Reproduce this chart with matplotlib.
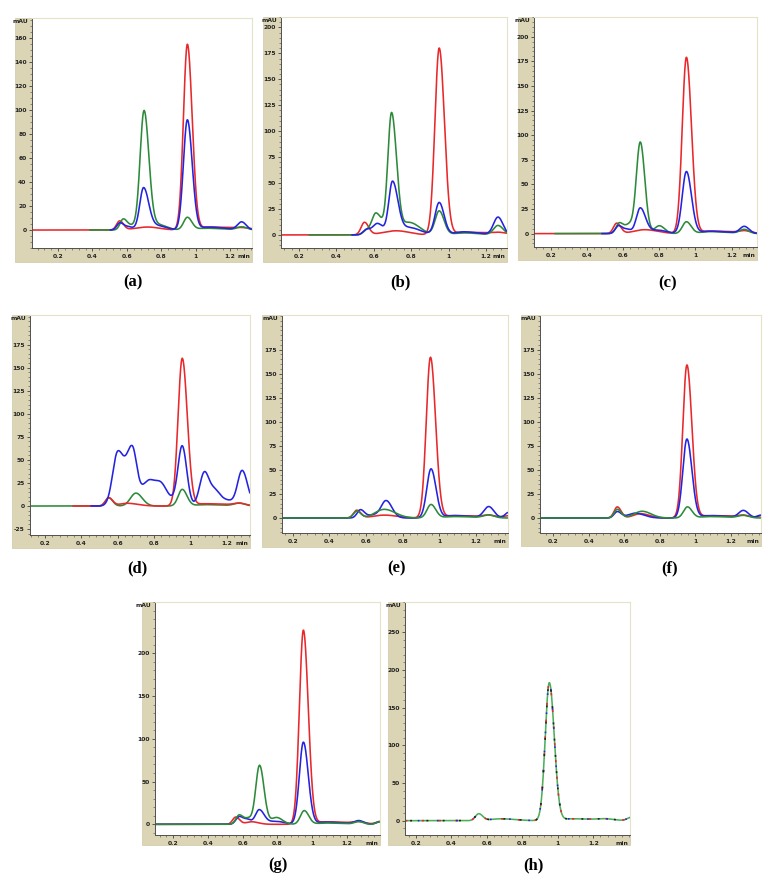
import numpy as np
import matplotlib
matplotlib.use("Agg")
import matplotlib.pyplot as plt
from matplotlib.patches import Rectangle
from matplotlib.ticker import MultipleLocator, FixedLocator, FixedFormatter

# ---------------- data: peaks ---------------------------------------
# each peak: (retention time [min], height [mAU], left width, right width)
A_RED = [(0.558, 7.5, 0.018, 0.022), (0.72, 2.5, 0.07, 0.07), (0.952, 155, 0.023, 0.028),
         (1.08, 2.5, 0.05, 0.15), (1.27, 1.0, 0.05, 0.05)]
A_BLUE = [(0.56, 6.0, 0.018, 0.022), (0.61, 2.5, 0.02, 0.03), (0.697, 35, 0.022, 0.03),
          (0.78, 3.5, 0.04, 0.05), (0.952, 92, 0.023, 0.028), (1.07, 2.5, 0.04, 0.1),
          (1.268, 6.5, 0.024, 0.026)]
A_GREEN = [(0.578, 8.5, 0.018, 0.022), (0.63, 3.5, 0.03, 0.03), (0.70, 99, 0.023, 0.028),
           (0.78, 4.5, 0.04, 0.05), (0.952, 10.5, 0.022, 0.026), (1.06, 1.5, 0.05, 0.1),
           (1.27, 2.5, 0.03, 0.03)]

B_RED = [(0.55, 12, 0.018, 0.022), (0.72, 4, 0.07, 0.07), (0.95, 180, 0.023, 0.028),
         (1.08, 2.5, 0.05, 0.15), (1.27, 1.5, 0.04, 0.04)]
B_BLUE = [(0.56, 5, 0.018, 0.022), (0.62, 11, 0.025, 0.03), (0.70, 51, 0.02, 0.029),
          (0.79, 7, 0.04, 0.06), (0.95, 31, 0.022, 0.026), (1.08, 3, 0.05, 0.08),
          (1.265, 17, 0.024, 0.026)]
B_GREEN = [(0.56, 4, 0.018, 0.022), (0.612, 21, 0.022, 0.032), (0.695, 117, 0.02, 0.027),
           (0.79, 12, 0.035, 0.055), (0.95, 23, 0.022, 0.026), (1.08, 2, 0.05, 0.08),
           (1.265, 9, 0.024, 0.028)]

C_RED = [(0.565, 10.5, 0.018, 0.022), (0.72, 4, 0.06, 0.07), (0.95, 179, 0.023, 0.028),
         (1.08, 2.5, 0.05, 0.15), (1.27, 2, 0.03, 0.03)]
C_BLUE = [(0.575, 8, 0.018, 0.022), (0.625, 4, 0.02, 0.02), (0.695, 26, 0.022, 0.029),
          (0.79, 3.5, 0.04, 0.05), (0.95, 63, 0.023, 0.028), (1.08, 2.5, 0.05, 0.1),
          (1.27, 7, 0.024, 0.026)]
C_GREEN = [(0.58, 11, 0.018, 0.025), (0.635, 8, 0.02, 0.02), (0.695, 93, 0.022, 0.025),
           (0.80, 8, 0.025, 0.03), (0.95, 12, 0.022, 0.026), (1.08, 2, 0.05, 0.1),
           (1.27, 4, 0.025, 0.025)]

D_RED = [(0.55, 9, 0.018, 0.022), (0.65, 3, 0.04, 0.06), (0.955, 160, 0.023, 0.028),
         (1.08, 2.5, 0.05, 0.15), (1.27, 2, 0.03, 0.03)]
D_BLUE = [(0.60, 58, 0.028, 0.035), (0.68, 59, 0.03, 0.025), (0.77, 27, 0.04, 0.04),
          (0.84, 18, 0.03, 0.03), (0.90, 6, 0.04, 0.04), (0.955, 63, 0.023, 0.025),
          (1.075, 34, 0.025, 0.025), (1.13, 16, 0.03, 0.03), (1.2, 6, 0.04, 0.04),
          (1.285, 38, 0.025, 0.03)]
D_GREEN = [(0.55, 9, 0.018, 0.022), (0.70, 14, 0.03, 0.035), (0.955, 18, 0.022, 0.026),
           (1.08, 1.5, 0.05, 0.1), (1.27, 3, 0.03, 0.03)]

E_RED = [(0.55, 8, 0.018, 0.022), (0.70, 3, 0.06, 0.07), (0.952, 167, 0.023, 0.028),
         (1.08, 2.5, 0.05, 0.15), (1.27, 2, 0.03, 0.03), (1.38, 2, 0.03, 0.03)]
E_BLUE = [(0.57, 8.5, 0.018, 0.022), (0.64, 3, 0.03, 0.03), (0.71, 18, 0.027, 0.032),
          (0.955, 51, 0.023, 0.027), (1.08, 2.5, 0.05, 0.1), (1.27, 11.5, 0.026, 0.028),
          (1.38, 6, 0.02, 0.02)]
E_GREEN = [(0.55, 7, 0.018, 0.022), (0.70, 9, 0.05, 0.06), (0.955, 14, 0.022, 0.026),
           (1.08, 1.5, 0.05, 0.1), (1.27, 3, 0.03, 0.03)]

F_RED = [(0.56, 11.5, 0.018, 0.022), (0.69, 4.5, 0.04, 0.05), (0.952, 159, 0.023, 0.028),
         (1.08, 2.5, 0.05, 0.15), (1.27, 2, 0.03, 0.03), (1.37, 2, 0.02, 0.02)]
F_BLUE = [(0.56, 6.5, 0.018, 0.022), (0.66, 5, 0.04, 0.05), (0.952, 82, 0.023, 0.028),
          (1.08, 2.5, 0.05, 0.1), (1.27, 7.5, 0.026, 0.028), (1.37, 3, 0.02, 0.02)]
F_GREEN = [(0.56, 9, 0.018, 0.022), (0.70, 7, 0.045, 0.05), (0.955, 11.5, 0.022, 0.026),
           (1.08, 1.5, 0.05, 0.1), (1.27, 2.5, 0.03, 0.03)]

G_RED = [(0.56, 8.5, 0.018, 0.022), (0.65, 3, 0.03, 0.04), (0.95, 227, 0.023, 0.028),
         (1.08, 3, 0.05, 0.15), (1.27, 2, 0.03, 0.03), (1.39, 3, 0.02, 0.02)]
G_BLUE = [(0.58, 9, 0.019, 0.024), (0.63, 5, 0.02, 0.02), (0.695, 17, 0.022, 0.029),
          (0.79, 3.5, 0.04, 0.05), (0.95, 96, 0.023, 0.028), (1.08, 2.5, 0.05, 0.1),
          (1.27, 4, 0.026, 0.028), (1.39, 3, 0.02, 0.02)]
G_GREEN = [(0.58, 11, 0.019, 0.025), (0.635, 6, 0.02, 0.02), (0.697, 69, 0.022, 0.026),
           (0.795, 8, 0.03, 0.035), (0.955, 16, 0.022, 0.026), (1.08, 1.5, 0.05, 0.1),
           (1.27, 3, 0.025, 0.025), (1.39, 3, 0.02, 0.02)]

H_ALL = [(0.555, 9, 0.019, 0.022), (0.68, 2.5, 0.06, 0.08), (0.952, 183, 0.023, 0.028),
         (1.08, 2.5, 0.05, 0.15), (1.27, 1.5, 0.04, 0.04), (1.41, 4, 0.02, 0.02)]

X_TICKS = [0.2, 0.4, 0.6, 0.8, 1.0, 1.2]
X_TICK_LABELS = ["0.2", "0.4", "0.6", "0.8", "1", "1.2"]
Y_TICKS = [
    [0, 20, 40, 60, 80, 100, 120, 140, 160],
    [0, 25, 50, 75, 100, 125, 150, 175, 200],
    [0, 25, 50, 75, 100, 125, 150, 175, 200],
    [-25, 0, 25, 50, 75, 100, 125, 150, 175],
    [0, 25, 50, 75, 100, 125, 150, 175],
    [0, 25, 50, 75, 100, 125, 150, 175],
    [0, 50, 100, 150, 200],
    [0, 50, 100, 150, 200, 250],
]
PANEL_LABELS = ["(a)", "(b)", "(c)", "(d)", "(e)", "(f)", "(g)", "(h)"]

# ---------------- styling / layout -----------------
RED, BLUE, GREEN, BLACK = "#e8282a", "#2323e0", "#2d8a3a", "#202020"
LIGHTGREEN = "#4fae5c"
TAN = "#dbd5b5"
W, H = 774, 881

fig = plt.figure(figsize=(W / 100, H / 100), dpi=100)


def trace(peaks, x):
    y = np.zeros_like(x)
    for c, h, wl, wr in peaks:
        w = np.where(x < c, wl, wr)
        y += h * np.exp(-0.5 * ((x - c) / w) ** 2)
    return y


# (L, R, T, B, tanLeft, tanBottom) in pixels; xlim; ylim; y minor step
layout = [
    ((32, 252, 18, 248, 15, 262), (0.048, 1.328), (-15, 177), 5),
    ((281, 507, 17, 248, 263, 262), (0.103, 1.313), (-12.6, 210), 5),
    ((534, 757, 17, 247, 518, 260), (0.108, 1.34), (-13.6, 220), 5),
    ((30, 250, 315, 535, 12, 548), (0.117, 1.328), (-31.4, 207), 5),
    ((282, 508, 315, 533, 262, 547), (0.142, 1.375), (-15.6, 211), 5),
    ((540, 761, 315, 533, 521, 546), (0.125, 1.369), (-15.6, 211), 5),
    ((155, 380, 602, 835, 142, 845), (0.094, 1.392), (-12.5, 260), 10),
    ((405, 630, 602, 835, 388, 845), (0.14, 1.406), (-19, 290), 10),
]

traces = [
    [(A_RED, RED, None, "-"), (A_GREEN, GREEN, 0.38, "-"), (A_BLUE, BLUE, 0.5, "-")],
    [(B_RED, RED, None, "-"), (B_GREEN, GREEN, 0.25, "-"), (B_BLUE, BLUE, 0.48, "-")],
    [(C_RED, RED, None, "-"), (C_GREEN, GREEN, 0.22, "-"), (C_BLUE, BLUE, 0.48, "-")],
    [(D_GREEN, GREEN, None, "-"), (D_RED, RED, 0.35, "-"), (D_BLUE, BLUE, 0.45, "-")],
    [(E_RED, RED, None, "-"), (E_BLUE, BLUE, None, "-"), (E_GREEN, GREEN, None, "-")],
    [(F_RED, RED, None, "-"), (F_BLUE, BLUE, None, "-"), (F_GREEN, GREEN, None, "-")],
    [(G_RED, RED, None, "-"), (G_BLUE, BLUE, None, "-"), (G_GREEN, GREEN, None, "-")],
    [(H_ALL, LIGHTGREEN, None, "-"), (H_ALL, RED, None, (0, (1.5, 9))),
     (H_ALL, BLUE, None, (4, (1.0, 11))), (H_ALL, BLACK, None, (7, (1.2, 9)))],
]

for i, ((L, R, T, B, TL, TB), xlim, ylim, ymin) in enumerate(layout):
    fig.patches.append(Rectangle((TL / W, 1 - TB / H), (R - TL) / W, (TB - T) / H,
                                 transform=fig.transFigure, facecolor=TAN,
                                 edgecolor="#cfc9a8", lw=0.5, zorder=-10))
    ax = fig.add_axes([L / W, 1 - B / H, (R - L) / W, (B - T) / H], zorder=1)
    ax.set_facecolor("white")
    ax.set_xlim(*xlim)
    ax.set_ylim(*ylim)
    for (pk, col, start, ls) in traces[i]:
        x0 = xlim[0] if start is None else start
        x = np.linspace(x0, xlim[1], 900)
        ax.plot(x, trace(pk, x), color=col, lw=1.15, ls=ls, solid_capstyle="butt")
    ax.xaxis.set_major_locator(FixedLocator(X_TICKS))
    ax.xaxis.set_major_formatter(FixedFormatter(X_TICK_LABELS))
    ax.xaxis.set_minor_locator(MultipleLocator(0.04))
    ax.yaxis.set_major_locator(FixedLocator(Y_TICKS[i]))
    ax.yaxis.set_major_formatter(FixedFormatter([str(v) for v in Y_TICKS[i]]))
    ax.yaxis.set_minor_locator(MultipleLocator(ymin))
    ax.tick_params(which="major", length=2.5, width=0.6, color="#404040", pad=1.5,
                   labelsize=4.3, labelcolor="#222222")
    ax.tick_params(which="minor", length=1.4, width=0.5, color="#606060")
    for lab in ax.get_xticklabels() + ax.get_yticklabels():
        lab.set_fontweight("bold")
    for s in ("left", "bottom"):
        ax.spines[s].set_color("#505050")
        ax.spines[s].set_linewidth(0.7)
    for s in ("top", "right"):
        ax.spines[s].set_color("#e6e2c8")
        ax.spines[s].set_linewidth(0.8)
    ax.annotate("mAU", xy=(0, 1), xycoords="axes fraction", xytext=(-3, -1.0),
                textcoords="offset points", ha="right", va="top", fontsize=4.3,
                fontweight="bold", color="#222222")
    ax.annotate("min", xy=(1, 0), xycoords="axes fraction", xytext=(-1, -4.3),
                textcoords="offset points", ha="right", va="top", fontsize=4.3,
                fontweight="bold", color="#222222")

label_pos = [(133, 282), (400, 282), (668, 283), (137, 568), (397, 568), (670, 568),
             (278, 865), (533, 865)]
for lab, (px, py) in zip(PANEL_LABELS, label_pos):
    fig.text(px / W, 1 - py / H, lab, ha="center", va="center", fontsize=12,
             fontweight="bold", family="Liberation Serif")

fig.savefig("out.png", dpi=100)
